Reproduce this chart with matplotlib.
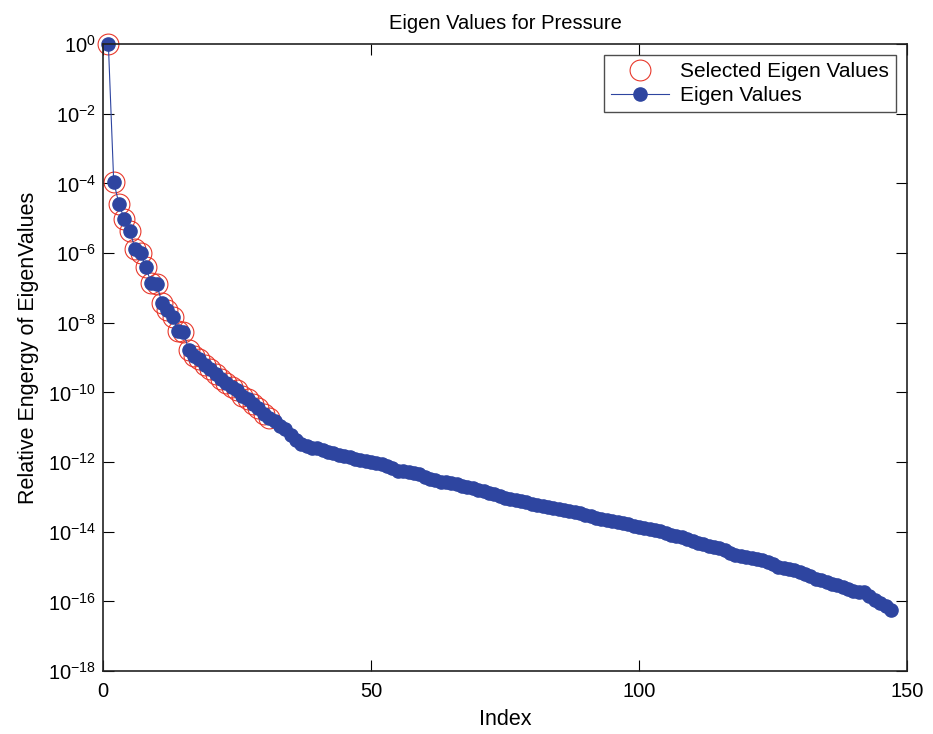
import numpy as np
import matplotlib
matplotlib.use("Agg")
import matplotlib.pyplot as plt
from matplotlib.ticker import FixedLocator, FuncFormatter

plt.rcParams['font.family'] = ['Liberation Sans', 'DejaVu Sans']
plt.rcParams['mathtext.default'] = 'regular'

# relative energy of each eigenvalue (sorted, normalised to the largest)
eigen_values = [
    1.0, 1.1e-4, 2.5e-5, 9.3e-6, 4.4e-6, 1.3e-6, 1.0e-6, 3.9e-7, 1.35e-7, 1.3e-7,
    3.7e-8, 2.3e-8, 1.5e-8, 5.6e-9, 5.4e-9, 1.65e-9, 1.1e-9, 8.9e-10, 6.0e-10, 4.8e-10,
    3.3e-10, 2.5e-10, 1.9e-10, 1.4e-10, 1.17e-10, 7.9e-11, 6.3e-11, 4.7e-11, 3.5e-11, 2.4e-11,
    1.8e-11, 1.5e-11, 1.1e-11, 8.7e-12, 6.0e-12, 4.4e-12, 3.3e-12, 2.8e-12, 2.6e-12, 2.45e-12,
    2.2e-12, 2.0e-12, 1.8e-12, 1.6e-12, 1.45e-12, 1.35e-12, 1.26e-12, 1.15e-12, 1.07e-12, 1.0e-12,
    9.3e-13, 8.7e-13, 7.9e-13, 6.6e-13, 5.6e-13, 5.4e-13, 5.1e-13, 4.9e-13, 4.4e-13, 3.8e-13,
    3.3e-13, 3.0e-13, 2.75e-13, 2.6e-13, 2.45e-13, 2.3e-13, 2.1e-13, 1.9e-13, 1.75e-13, 1.6e-13,
    1.5e-13, 1.3e-13, 1.17e-13, 1.05e-13, 9.3e-14, 8.7e-14, 8.1e-14, 7.6e-14, 6.9e-14, 6.3e-14,
    5.9e-14, 5.5e-14, 5.0e-14, 4.7e-14, 4.4e-14, 4.1e-14, 3.8e-14, 3.6e-14, 3.4e-14, 3.0e-14,
    2.75e-14, 2.5e-14, 2.35e-14, 2.15e-14, 2.0e-14, 1.86e-14, 1.74e-14, 1.62e-14, 1.48e-14, 1.38e-14,
    1.29e-14, 1.2e-14, 1.12e-14, 1.02e-14, 9.1e-15, 8.1e-15, 7.6e-15, 7.1e-15, 6.3e-15, 5.5e-15,
    4.8e-15, 4.3e-15, 3.9e-15, 3.55e-15, 3.3e-15, 2.95e-15, 2.5e-15, 2.2e-15, 2.0e-15, 1.86e-15,
    1.74e-15, 1.62e-15, 1.55e-15, 1.38e-15, 1.17e-15, 1.0e-15, 9.1e-16, 8.5e-16, 7.8e-16, 6.9e-16,
    6.0e-16, 5.2e-16, 4.5e-16, 4.0e-16, 3.55e-16, 3.2e-16, 2.9e-16, 2.6e-16, 2.3e-16, 1.95e-16,
    1.9e-16, 1.86e-16, 1.4e-16, 1.12e-16, 9.1e-17, 7.4e-17, 5.5e-17,
]
n_selected = 31

index = np.arange(1, len(eigen_values) + 1)
vals = np.array(eigen_values)

fig = plt.figure(figsize=(9.33, 7.34), dpi=100)
ax = fig.add_axes([0.1104, 0.0858, 0.8617, 0.8542])

ax.semilogy(index[:n_selected], vals[:n_selected], 'o', ms=15, mfc='none',
            mec='#e8392c', mew=0.8, label='Selected Eigen Values', clip_on=False)
ax.semilogy(index, vals, '-o', color='#2e45a0', lw=0.8, ms=9.5,
            mfc='#2e45a0', mec='#2e45a0', label='Eigen Values', clip_on=False)

ax.set_xlim(0, 150)
ax.set_ylim(1e-18, 1e0)
ax.xaxis.set_major_locator(FixedLocator([0, 50, 100, 150]))
ax.yaxis.set_major_locator(FixedLocator([10.0**k for k in range(-18, 1, 2)]))
ax.yaxis.set_minor_locator(FixedLocator([]))
ax.yaxis.set_major_formatter(FuncFormatter(lambda v, p: r'$10^{%d}$' % round(np.log10(v))))
ax.tick_params(direction='in', length=8, width=0.8, top=True, right=True,
               labelsize=14.5, pad=8)
ax.tick_params(axis='y', pad=5)
for s in ax.spines.values():
    s.set_linewidth(1.2)
    s.set_color('#222222')

ax.set_title('Eigen Values for Pressure', fontsize=14.5, pad=11)
ax.set_xlabel('Index', fontsize=15.5)
ax.xaxis.set_label_coords(0.5, -0.06)
ax.set_ylabel('Relative Engergy of EigenValues', fontsize=15.5)
ax.yaxis.set_label_coords(-0.08, 0.515)

leg = ax.legend(loc='upper right', fontsize=15, frameon=True, fancybox=False,
                borderaxespad=0.53, handlelength=2.8, borderpad=0.35,
                labelspacing=0.22, handletextpad=0.5)
leg.get_frame().set_edgecolor('#222222')
leg.get_frame().set_linewidth(1.0)

fig.savefig('out.png', dpi=100)
